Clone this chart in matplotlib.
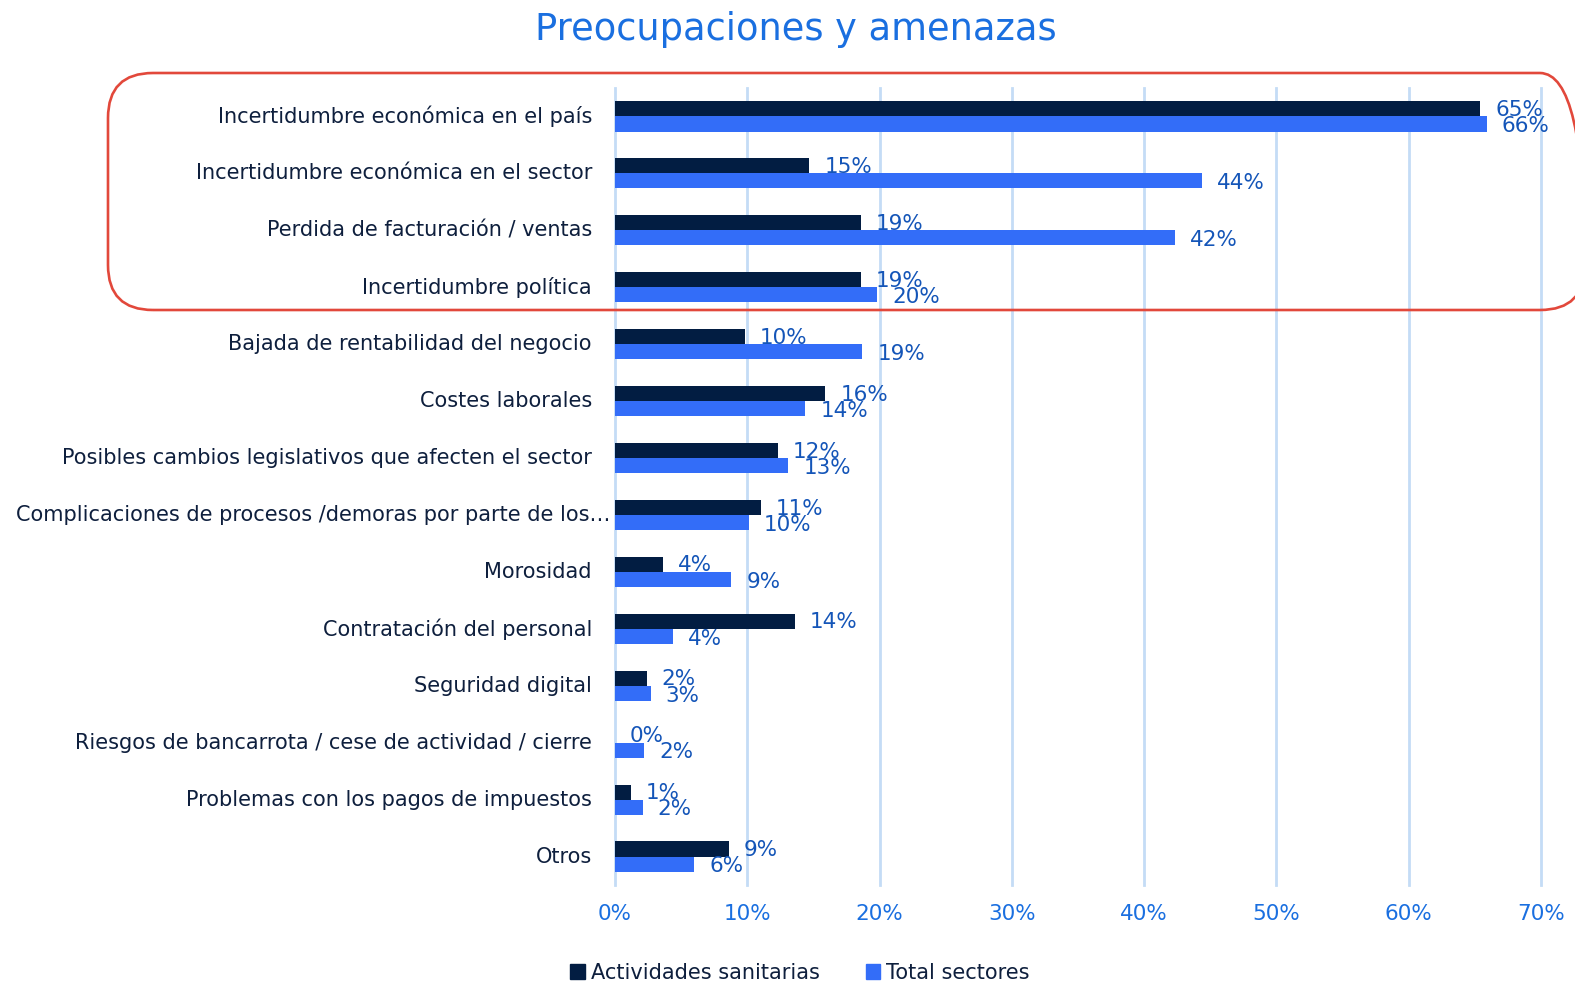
import matplotlib
matplotlib.use("Agg")
import matplotlib.pyplot as plt
from matplotlib.patches import FancyBboxPatch, Patch
from matplotlib.transforms import blended_transform_factory, ScaledTranslation

categories = [
    "Incertidumbre económica en el país",
    "Incertidumbre económica en el sector",
    "Perdida de facturación / ventas",
    "Incertidumbre política",
    "Bajada de rentabilidad del negocio",
    "Costes laborales",
    "Posibles cambios legislativos que afecten el sector",
    "Complicaciones de procesos /demoras por parte de los…",
    "Morosidad",
    "Contratación del personal",
    "Seguridad digital",
    "Riesgos de bancarrota / cese de actividad / cierre",
    "Problemas con los pagos de impuestos",
    "Otros",
]
sanitarias = [65.4, 14.7, 18.6, 18.6, 9.8, 15.9, 12.3, 11.0, 3.6, 13.6, 2.4, 0.0, 1.2, 8.6]
total = [65.9, 44.4, 42.3, 19.8, 18.7, 14.4, 13.1, 10.1, 8.8, 4.4, 2.7, 2.2, 2.1, 6.0]
series_names = ["Actividades sanitarias", "Total sectores"]
xticks = [0, 10, 20, 30, 40, 50, 60, 70]
xtick_labels = ["0%", "10%", "20%", "30%", "40%", "50%", "60%", "70%"]
title = "Preocupaciones y amenazas"

DARK = "#021D42"
BLUE = "#336DF8"
LABEL_C = "#1455B8"
TICK_C = "#1A6FE0"
CAT_C = "#0E1F3D"
GRID_C = "#C4DCF6"

plt.rcParams['font.family'] = ['DejaVu Sans']

W, H = 1575, 986
fig = plt.figure(figsize=(W / 100, H / 100), dpi=100)
ax = fig.add_axes([615 / W, 1 - 885 / H, (1541 - 615) / W, (885 - 88) / H])

n = len(categories)
ys = list(range(n))
bh = 0.265
y_dark = [y - bh / 2 for y in ys]
y_blue = [y + bh / 2 for y in ys]
ax.barh(y_dark, sanitarias, height=bh, color=DARK, zorder=3)
ax.barh(y_blue, total, height=bh, color=BLUE, zorder=3)

ax.set_xlim(0, 70)
ax.set_ylim(n - 0.5, -0.5)
ax.set_xticks(xticks)
ax.set_xticklabels(xtick_labels, color=TICK_C, fontsize=15.5)
ax.tick_params(axis='x', length=0, pad=14)
ax.set_yticks([])
ax.grid(axis='x', color=GRID_C, linewidth=2, zorder=0)
for gl in ax.get_xgridlines():
    gl.set_clip_on(False)
for s in ax.spines.values():
    s.set_visible(False)

off = ScaledTranslation(15 / 100, 0, fig.dpi_scale_trans)
for y, v in zip(y_dark, sanitarias):
    ax.text(v, y + 0.02, f"{round(v)}%", color=LABEL_C, fontsize=15.5, va='center', ha='left',
            transform=ax.transData + off, zorder=4)
for y, v in zip(y_blue, total):
    ax.text(v, y + 0.04, f"{round(v)}%", color=LABEL_C, fontsize=15.5, va='center', ha='left',
            transform=ax.transData + off, zorder=4)

btr = blended_transform_factory(ax.transAxes, ax.transData)
for i, c in enumerate(categories):
    dx = -23 if not c.endswith("…") else -5
    t = btr + ScaledTranslation(dx / 100, 0, fig.dpi_scale_trans)
    ax.text(0, i, c, ha='right', va='center', color=CAT_C, fontsize=15, transform=t)

fig.text(796 / W, 1 - 30 / H, title, ha='center', va='center', color=TICK_C, fontsize=26.5)

handles = [Patch(color=DARK), Patch(color=BLUE)]
fig.legend(handles, series_names, loc='center', bbox_to_anchor=(800 / W, 1 - 973 / H),
           ncol=2, frameon=False, fontsize=15, handlelength=0.7, handleheight=0.7,
           handletextpad=0.3, columnspacing=2.2, labelcolor=CAT_C)

box = FancyBboxPatch((1.08, (H - 310) / 100), 14.77, 2.37,
                     boxstyle="round,pad=0,rounding_size=0.45",
                     transform=fig.dpi_scale_trans, fill=False, edgecolor="#E2483B",
                     linewidth=1.9, clip_on=False, zorder=10)
fig.patches.append(box)

fig.savefig("out.png", dpi=100, facecolor='white')
